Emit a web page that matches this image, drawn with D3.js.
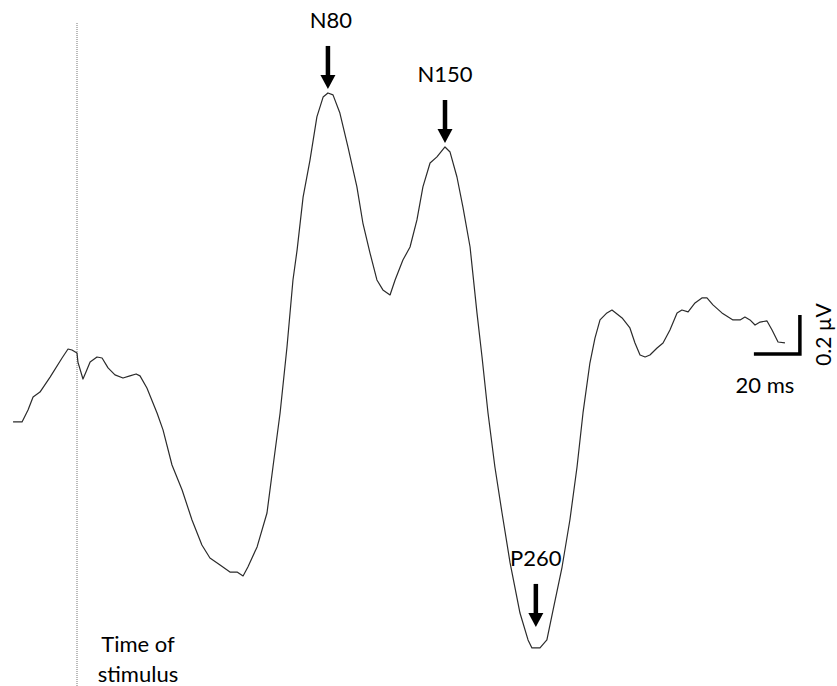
<!DOCTYPE html>
<html>
<head>
<meta charset="utf-8">
<script src="https://cdn.jsdelivr.net/npm/d3@7"></script>
<style>
  body { margin: 0; background: #fff; }
  text { font-family: Lato, "Open Sans", sans-serif; fill: #000; }
</style>
</head>
<body>
<div id="chart"></div>
<script>
// ERP waveform, time in ms (0 = stimulus), amplitude in µV (negative plotted up)
const times = [-27.8, -23.9, -21.3, -19.1, -16.1, -11.7, -6.5, -3.9, -2.2, 0, 0.4, 2.6, 3.9, 5.7, 8.7, 10.9,
    13.5, 16.5, 20.0, 23.0, 25.7, 27.4, 30.4, 34.8, 37.4, 41.3, 45.7, 50.0, 54.3, 57.8, 62.2, 66.5, 69.6,
    72.2, 74.3, 78.3, 82.6, 85.2, 88.3, 91.3, 93.9, 95.7, 98.3, 101.3, 104.3, 107.0, 109.1, 111.3, 114.3,
    117.8, 121.7, 124.3, 127.4, 130.4, 133.0, 136.1, 138.3, 141.7, 144.8, 147.8, 150.4, 153.5, 156.5,
    160.0, 162.2, 165.2, 167.8, 170.9, 173.9, 176.1, 178.7, 181.7, 184.8, 188.3, 192.6, 196.1, 197.8,
    201.3, 204.3, 207.0, 210.9, 214.3, 217.4, 220.0, 223.0, 225.2, 227.4, 230.4, 232.6, 237.0, 240.4,
    242.6, 244.8, 247.0, 249.1, 252.2, 254.8, 257.8, 260.9, 263.0, 265.7, 268.7, 271.7, 273.9, 276.5,
    280.4, 285.2, 288.3, 290.4, 292.6, 294.8, 297.0, 300.0, 302.2, 304.8, 307.8]
const values = [0.215, 0.215, 0.154, 0.087, 0.062, -0.015, -0.113, -0.159, -0.154, -0.138, -0.092, -0.005,
    -0.041, -0.092, -0.118, -0.113, -0.062, -0.026, -0.010, -0.021, -0.031, -0.021, 0.041, 0.169, 0.256,
    0.436, 0.564, 0.718, 0.846, 0.913, 0.949, 0.985, 0.985, 1.005, 0.959, 0.856, 0.682, 0.446, 0.169,
    -0.169, -0.513, -0.667, -0.938, -1.128, -1.349, -1.451, -1.472, -1.462, -1.369, -1.195, -0.990,
    -0.805, -0.651, -0.513, -0.462, -0.436, -0.513, -0.615, -0.682, -0.821, -0.990, -1.113, -1.144,
    -1.195, -1.169, -1.041, -0.887, -0.682, -0.344, -0.118, 0.169, 0.446, 0.682, 0.938, 1.195, 1.333,
    1.374, 1.374, 1.333, 1.179, 0.959, 0.718, 0.446, 0.169, -0.087, -0.215, -0.308, -0.344, -0.359,
    -0.318, -0.267, -0.190, -0.128, -0.118, -0.128, -0.164, -0.190, -0.256, -0.344, -0.359, -0.349,
    -0.395, -0.421, -0.421, -0.385, -0.344, -0.308, -0.308, -0.323, -0.308, -0.282, -0.297, -0.303,
    -0.256, -0.195, -0.190]

// labelled components
const peakLabels = ["N80", "N150", "P260"]
const peakTimes = [109.1, 160.0, 199.5]
const peakValues = [-1.472, -1.195, 1.374]

// scale bar: 20 ms by 0.2 µV
const barTime = 294.3
const barValue = -0.133
const barMs = 20
const barUv = 0.2

const width = 837
const height = 686

const svg = d3.select('#chart')
    .append('svg')
    .attr('width', width)
    .attr('height', height)

// 20 ms = 46 px, 0.2 µV = 39 px
const x = d3.scaleLinear().domain([0, 20]).range([77, 123])
const y = d3.scaleLinear().domain([0, 0.2]).range([380, 419])

const data = times.map((t, i) => ({ t: t, v: values[i] }))

// stimulus onset marker
svg.append('line')
    .attr('x1', x(0)).attr('x2', x(0))
    .attr('y1', 23).attr('y2', height)
    .attr('stroke', '#777')
    .attr('stroke-width', 1)
    .attr('stroke-dasharray', '1,1')

svg.append('path')
    .datum(data)
    .attr('fill', 'none')
    .attr('stroke', '#2b2b2b')
    .attr('stroke-width', 1.2)
    .attr('stroke-linejoin', 'round')
    .attr('d', d3.line()
        .x(d => x(d.t))
        .y(d => y(d.v)))

svg.append('text')
    .attr('x', x(0) + 61)
    .attr('y', 652)
    .attr('text-anchor', 'middle')
    .style('font-size', '22px')
    .text('Time of')
svg.append('text')
    .attr('x', x(0) + 61)
    .attr('y', 682)
    .attr('text-anchor', 'middle')
    .style('font-size', '22px')
    .text('stimulus')

// arrows pointing down at each peak
const arrow = (cx, tip) => {
    svg.append('line')
        .attr('x1', cx).attr('x2', cx)
        .attr('y1', tip - 43).attr('y2', tip - 12)
        .attr('stroke', '#000')
        .attr('stroke-width', 4.5)
    svg.append('path')
        .attr('d', `M${cx - 7.5},${tip - 14}L${cx + 7.5},${tip - 14}L${cx},${tip}Z`)
        .attr('fill', '#000')
}

peakLabels.forEach((lab, i) => {
    const px = x(peakTimes[i])
    const py = y(peakValues[i])
    const tip = peakValues[i] < 0 ? py - 4 : py - 21
    arrow(px, tip)
    svg.append('text')
        .attr('x', px + (i == 0 ? 3 : 0))
        .attr('y', tip - 61)
        .attr('text-anchor', 'middle')
        .style('font-size', '22px')
        .text(lab)
})

// scale bar
svg.append('path')
    .attr('d', `M${x(barTime)},${y(barValue)}H${x(barTime + barMs)}V${y(barValue - barUv)}`)
    .attr('fill', 'none')
    .attr('stroke', '#000')
    .attr('stroke-width', 3.5)

svg.append('text')
    .attr('x', x(barTime + barMs / 2) - 12)
    .attr('y', y(barValue) + 39)
    .attr('text-anchor', 'middle')
    .style('font-size', '22px')
    .text(barMs + ' ms')

svg.append('text')
    .attr('transform', `translate(${x(barTime + barMs) + 31},${y(barValue - barUv / 2)}) rotate(-90)`)
    .attr('text-anchor', 'middle')
    .style('font-size', '21px')
    .text(barUv + ' µV')
</script>
</body>
</html>
